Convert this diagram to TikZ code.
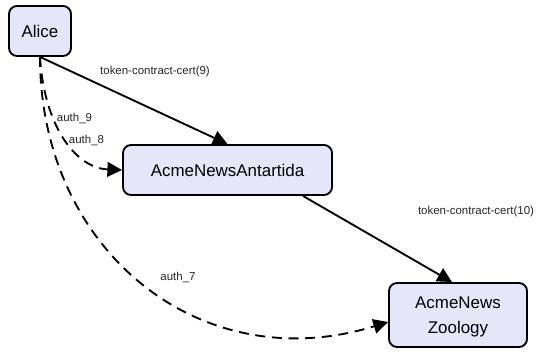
\documentclass[tikz,border=0pt]{standalone}
\usepackage{fontspec}
\setmainfont{Liberation Sans}
\usetikzlibrary{arrows.meta}
\definecolor{boxfill}{HTML}{E6E6FA}
\tikzset{
  box/.style={draw=black, line width=1.4pt, fill=boxfill, rounded corners=6pt,
    font=\fontsize{12.7}{18.7}\selectfont, align=center, inner sep=0pt},
  conn/.style={line width=1.4pt, -{Triangle[length=11pt,width=11pt]}},
  dconn/.style={conn, dash pattern=on 7.5pt off 5pt},
  lbl/.style={font=\fontsize{8.6}{10}\selectfont, text=black!85, inner sep=0pt}
}
\begin{document}
\begin{tikzpicture}[x=0.75pt,y=-0.75pt]
\useasboundingbox (0,0) rectangle (541,359);
\node[box, minimum width=46.5pt, minimum height=37.5pt] (alice) at (40,31) {Alice};
\node[box, minimum width=156.75pt, minimum height=37.5pt] (ant) at (227.5,170) {AcmeNewsAntartida};
\node[box, minimum width=103.5pt, minimum height=48pt, text depth=0pt] (zoo) at (458,315) {AcmeNews\\Zoology};
\draw[conn] (alice.south) -- (ant.north);
\draw[conn] ([xshift=56.6pt]ant.south) -- ([xshift=-4.5pt]zoo.north);
\draw[dconn] (alice.south) .. controls (44,125) and (75,168) .. (ant.west);
\draw[dconn] (alice.south) .. controls (40,250) and (200,380) .. ([yshift=-5.25pt]zoo.west);
\node[lbl] (l9) at (155,72) {token-contract-cert(9)};
\node[lbl] (l10) at (476,212) {token-contract-cert(10)};
\node[lbl] (la9) at (74.5,118) {auth\_9};
\node[lbl] (la8) at (86.5,140) {auth\_8};
\node[lbl] (la7) at (178,277) {auth\_7};
\end{tikzpicture}
\end{document}
